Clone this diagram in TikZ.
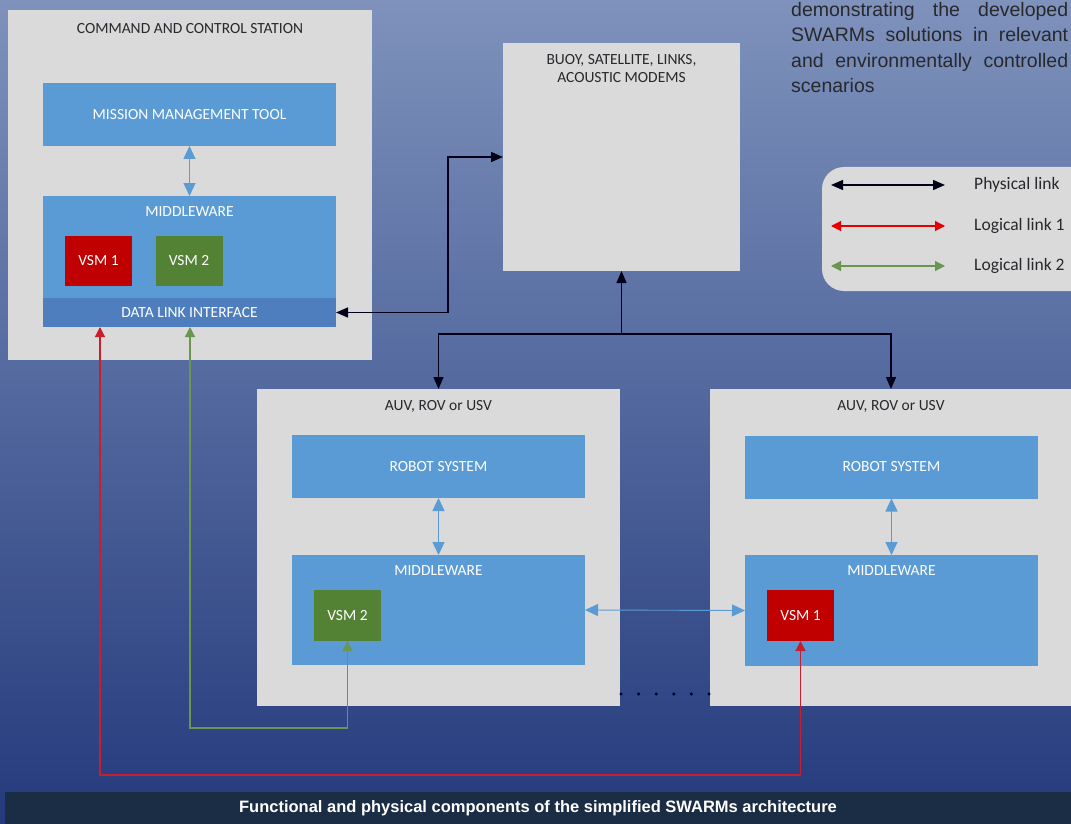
\documentclass[tikz,border=0pt]{standalone}
\usepackage{fontspec}
\setmainfont{Carlito}
\newfontfamily\parafont{Liberation Sans}
\usepackage{tikz}
\usetikzlibrary{positioning,arrows.meta}

\definecolor{bgtop}{RGB}{126,146,188}
\definecolor{bgmid}{RGB}{82,104,160}
\definecolor{bgbot}{RGB}{36,58,124}
\definecolor{capbg}{RGB}{27,45,68}
\definecolor{panelgray}{RGB}{218,218,218}
\definecolor{blockblue}{RGB}{91,155,213}
\definecolor{linkblue}{RGB}{78,126,190}
\definecolor{vsmred}{RGB}{192,0,0}
\definecolor{vsmgreen}{RGB}{84,130,53}
\definecolor{redline}{RGB}{200,30,45}
\definecolor{greenline}{RGB}{105,150,80}
\definecolor{darktext}{RGB}{40,40,45}

\tikzset{
  panel/.style={fill=panelgray, inner sep=0pt, outer sep=0pt},
  block/.style={fill=blockblue, inner sep=0pt, outer sep=0pt, text=white, font=\fontsize{15.5}{18}\selectfont},
  vsm/.style={fill=#1, inner sep=0pt, outer sep=0pt, text=white, font=\fontsize{15.5}{18}\selectfont, minimum width=67pt, minimum height=51pt},
  title/.style={inner sep=0pt, text=darktext, font=\fontsize{15.5}{18}\selectfont, align=center},
  wtext/.style={inner sep=0pt, text=white, font=\fontsize{15.5}{18}\selectfont},
  legtext/.style={inner sep=0pt, anchor=west, text=darktext, font=\fontsize{17.5}{21}\selectfont},
  physlink/.style={draw=black!90!blue, line width=1.4pt, {Triangle[length=12pt,width=10pt]}-{Triangle[length=12pt,width=10pt]}},
  physarrow/.style={draw=black!90!blue, line width=1.4pt, -{Triangle[length=12pt,width=10pt]}},
  bluelink/.style={draw=blockblue, line width=1.4pt, {Triangle[length=13pt,width=12pt]}-{Triangle[length=13pt,width=12pt]}},
  redlink/.style={draw=redline, line width=1.2pt, {Triangle[length=10pt,width=10pt]}-{Triangle[length=10pt,width=10pt]}},
  greenlink/.style={draw=greenline, line width=1.2pt, {Triangle[length=10pt,width=10pt]}-{Triangle[length=10pt,width=10pt]}}
}

\begin{document}
\begin{tikzpicture}[x=1pt,y=-1pt]
  \useasboundingbox (0,0) rectangle (1071,824);
  \shade[top color=bgtop, middle color=bgmid, bottom color=bgbot] (0,0) rectangle (1071,824);

  % command and control station
  \node[panel,minimum width=364pt,minimum height=350pt] (ccs) at (190,185) {};
  \node[title, below=13pt of ccs.north] (ccst) {COMMAND AND CONTROL STATION};
  \node[block,minimum width=293pt,minimum height=63pt] (mmt) at (189.5,114.5) {MISSION MANAGEMENT TOOL};
  \node[block,minimum width=293pt,minimum height=102pt] (mwc) at (189.5,247) {};
  \node[wtext, below=10pt of mwc.north] (mwct) {MIDDLEWARE};
  \node[block,fill=linkblue,minimum width=293pt,minimum height=29pt] (dli) at (189.5,312.5) {DATA LINK INTERFACE};
  \node[vsm=vsmred,minimum height=50pt] (vsm1a) at (98.5,261) {VSM 1};
  \node[vsm=vsmgreen,minimum height=50pt] (vsm2a) at (189,261) {VSM 2};

  % buoy
  \node[panel,minimum width=237pt,minimum height=228pt] (buoy) at (621.5,157) {};
  \node[title, below=11pt of buoy.north] (buoyt) {BUOY, SATELLITE, LINKS,\\ACOUSTIC MODEMS};

  % vehicles
  \node[panel,minimum width=363pt,minimum height=317pt] (auv1) at (438.5,547.5) {};
  \node[title, below=11pt of auv1.north] (auv1t) {AUV, ROV or USV};
  \node[block,minimum width=293pt,minimum height=63pt] (rs1) at (438.5,466.5) {ROBOT SYSTEM};
  \node[block,minimum width=293pt,minimum height=110pt] (mw1) at (438.5,610) {};
  \node[wtext, below=10pt of mw1.north] (mw1t) {MIDDLEWARE};
  \node[vsm=vsmgreen] (vsm2b) at (347.5,615.5) {VSM 2};

  \node[panel,minimum width=362pt,minimum height=317pt] (auv2) at (891,547.5) {};
  \node[title, below=11pt of auv2.north] (auv2t) {AUV, ROV or USV};
  \node[block,minimum width=293pt,minimum height=63pt] (rs2) at (891.5,467) {ROBOT SYSTEM};
  \node[block,minimum width=293pt,minimum height=111pt] (mw2) at (891.5,610.5) {};
  \node[wtext, below=10pt of mw2.north] (mw2t) {MIDDLEWARE};
  \node[vsm=vsmred] (vsm1b) at (800.5,615.5) {VSM 1};

  \foreach \i in {0,...,5}
    \fill[black!85!blue] (621+17.6*\i,694) circle (1.7pt);

  % text and legend
  \node[inner sep=0pt, anchor=north west, text width=277pt, align=justify, text=darktext,
        font=\parafont\fontsize{19.5}{25.5}\selectfont] (note) at (791,2)
        {demonstrating the developed SWARMs solutions in relevant and environmentally controlled scenarios};

  \node[panel,rounded corners=22pt,minimum width=273pt,minimum height=124pt] (legend) at (958.5,229) {};
  \coordinate (lg1a) at (831,185); \coordinate (lg1b) at (945,185);
  \coordinate (lg2a) at (831,226); \coordinate (lg2b) at (945,226);
  \coordinate (lg3a) at (831,266); \coordinate (lg3b) at (945,266);
  \draw[physlink] (lg1a) -- (lg1b);
  \draw[redlink,draw=red!90!black] (lg2a) -- (lg2b);
  \draw[greenlink] (lg3a) -- (lg3b);
  \node[legtext, right=29pt of lg1b] (lgl1) {Physical link};
  \node[legtext, right=29pt of lg2b] (lgl2) {Logical link 1};
  \node[legtext, right=29pt of lg3b] (lgl3) {Logical link 2};

  % links
  \draw[bluelink] (mmt.south) -- (mwc.north);
  \draw[bluelink] (rs1.south) -- (mw1.north);
  \draw[bluelink] (rs2.south) -- (mw2.north);
  \draw[bluelink,line width=0.9pt] (mw1.east) -- (mw2.west);

  \coordinate (bend) at (448,235);
  \draw[physlink] (dli.east) -| (bend) |- (buoy.west);
  \coordinate (hub) at (621.5,334);
  \draw[physarrow] (hub) -- (buoy.south);
  \draw[physarrow] (hub) -| (auv1.north);
  \draw[physarrow] (hub) -| (auv2.north);

  \coordinate (gcorner) at (190,728);
  \draw[greenlink] (dli.south -| gcorner) -- (gcorner) -| (vsm2b.south);
  \coordinate (rcorner) at (100,775);
  \draw[redlink] (dli.south -| rcorner) -- (rcorner) -| (vsm1b.south);

  % caption
  \node[fill=capbg,inner sep=0pt,minimum width=1066pt,minimum height=32pt] (capbar) at (538,808) {};
  \node[inner sep=0pt,text=white,font=\parafont\bfseries\fontsize{16.5}{19}\selectfont] (cap) at (capbar.center)
        {Functional and physical components of the simplified SWARMs architecture};
\end{tikzpicture}
\end{document}
